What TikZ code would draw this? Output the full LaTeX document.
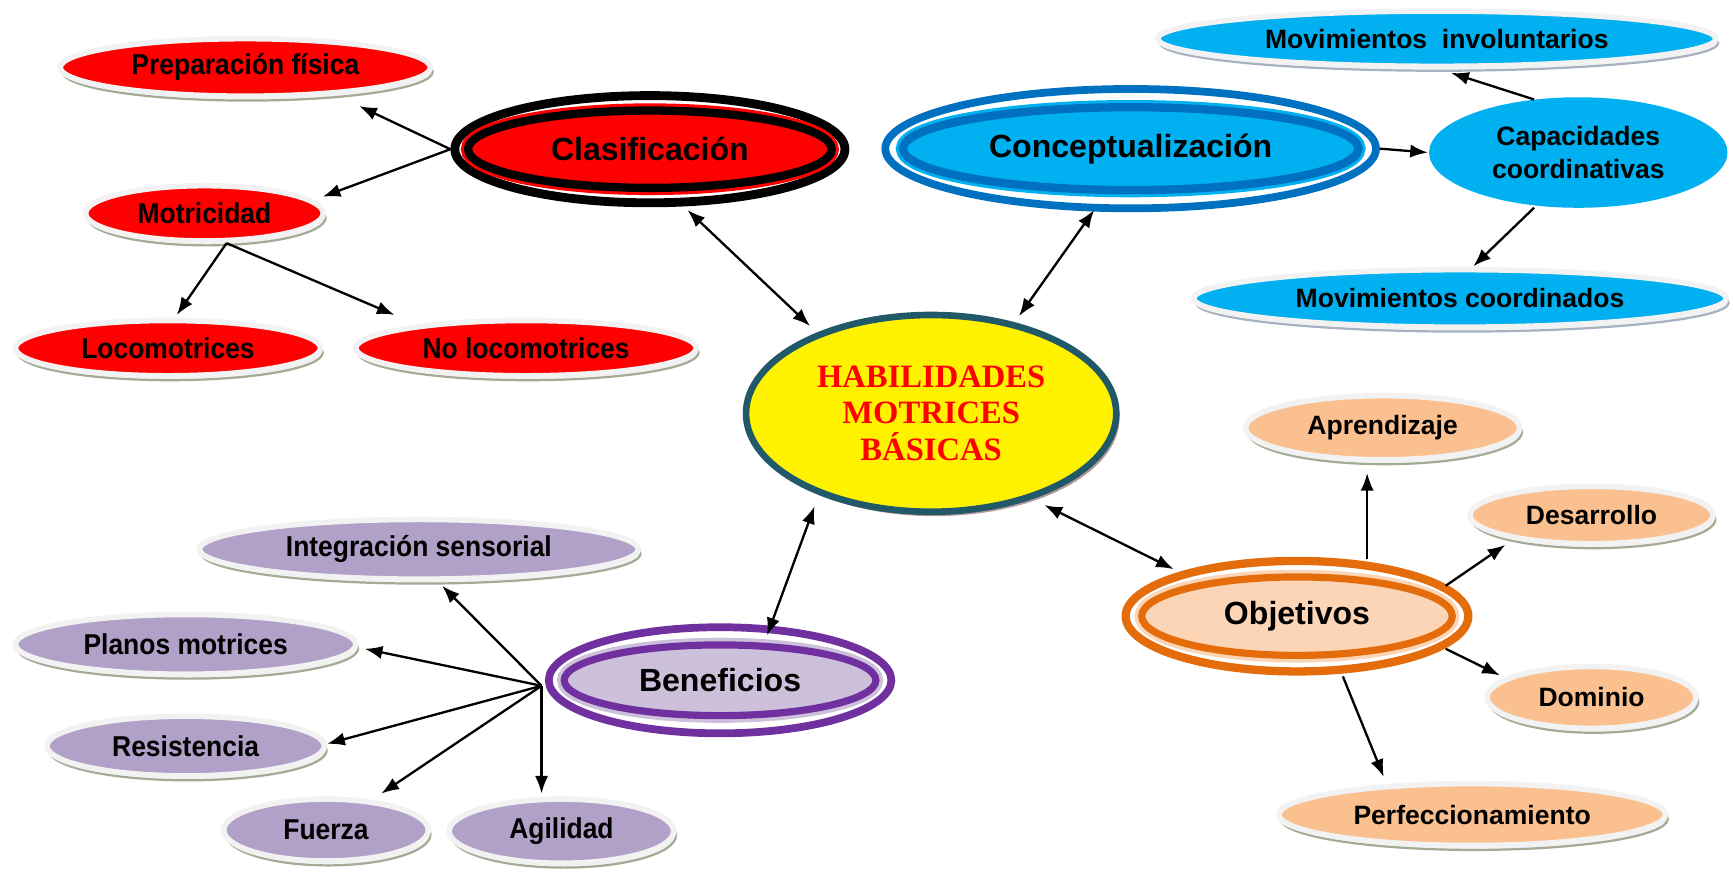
\documentclass[tikz,border=0pt]{standalone}
\usepackage{fontspec}
\setmainfont{Liberation Sans}
\newfontfamily\narrowfont[FakeStretch=0.92]{Liberation Sans}
\newfontfamily\timesfont{Liberation Serif}
\usetikzlibrary{shapes.geometric,shadows,arrows.meta,calc}

\definecolor{clasred}{HTML}{FF0000}
\definecolor{concblue}{HTML}{0070C0}
\definecolor{skyblue}{HTML}{00B0F0}
\definecolor{benepurple}{HTML}{7030A0}
\definecolor{benelight}{HTML}{CCC0DA}
\definecolor{leafpurple}{HTML}{B1A0C7}
\definecolor{objeorange}{HTML}{E46C0A}
\definecolor{objelight}{HTML}{FBD5B5}
\definecolor{leaforange}{HTML}{FAC090}
\definecolor{rimgray}{HTML}{F2F2F2}
\definecolor{shadegreen}{HTML}{A2AB93}
\definecolor{shadeblue}{HTML}{A7B1C2}
\definecolor{habiteal}{HTML}{215968}
\definecolor{habishade}{HTML}{B4979B}

\newcommand\narrowleaf{\narrowfont\bfseries\fontsize{26}{28}\selectfont}
\newcommand\wideleaf{\bfseries\fontsize{24}{29}\selectfont}

\tikzset{
  leaf/.style={ellipse, draw=rimgray, line width=5pt, inner sep=0pt,
    drop shadow={shadow xshift=2pt, shadow yshift=-4pt, opacity=1, fill=rimgray, draw=#1, line width=2pt}},
  leaf/.default=shadegreen,
  redleaf/.style={leaf, fill=clasred, font=\narrowleaf},
  purpleleaf/.style={leaf, fill=leafpurple, font=\narrowleaf},
  orangeleaf/.style={leaf, fill=leaforange, font=\wideleaf},
  blueleaf/.style={leaf=shadeblue, fill=skyblue, font=\wideleaf},
  capbox/.style={ellipse, fill=skyblue, inner sep=0pt, align=center, font=\wideleaf},
  ring/.style={ellipse, inner sep=0pt, fill=white, draw=#1},
  core/.style 2 args={ellipse, inner sep=0pt, draw=#1, fill=#2,
    preaction={draw=#2, line width=13pt}, font=\bfseries\fontsize{29}{32}\selectfont},
  centre/.style={ellipse, inner sep=0pt, draw=habiteal, line width=6pt, fill=yellow,
    align=center, text=red, font=\timesfont\bfseries\fontsize{29.5}{33}\selectfont,
    drop shadow={shadow xshift=3pt, shadow yshift=-4pt, opacity=1, fill=habishade}}
}

\begin{document}
\begin{tikzpicture}[x=1pt, y=-1pt, >={Latex[length=16pt,width=12pt]}, line width=2.1pt]
\useasboundingbox (0,0) rectangle (1568,790);

% centre
\node[centre, minimum width=335pt, minimum height=178pt] (habi) at (842.5,374) {HABILIDADES\\MOTRICES\\BÁSICAS};

% Clasificacion
\node[ring=black, line width=8pt, minimum width=353pt, minimum height=97pt] (clas) at (588,135) {};
\node[core={black}{clasred}, line width=7.5pt, minimum width=329pt, minimum height=70pt] (clasin) at (clas) {Clasificación};
\node[redleaf, minimum width=335pt, minimum height=52pt] (prep) at (222,61) {Preparación física};
\node[redleaf, minimum width=215pt, minimum height=50pt] (motr) at (185,193) {Motricidad};
\node[redleaf, minimum width=276pt, minimum height=50pt] (loco) at (152,315) {Locomotrices};
\node[redleaf, minimum width=308pt, minimum height=50pt] (nolo) at (476,315) {No locomotrices};

% Conceptualizacion
\node[ring=concblue, line width=7pt, minimum width=444pt, minimum height=108pt] (conc) at (1023,134.5) {};
\node[core={concblue}{skyblue}, line width=7.5pt, minimum width=412pt, minimum height=75pt] (concin) at (conc) {Conceptualización};
\node[capbox, minimum width=270pt, minimum height=100pt] (capa) at (1428,138) {Capacidades\\coordinativas};
\node[blueleaf, minimum width=505pt, minimum height=50pt] (movi) at (1300,35) {Movimientos\ \ involuntarios};
\node[blueleaf, minimum width=482pt, minimum height=52pt] (movc) at (1321,270) {Movimientos coordinados};

% Objetivos
\node[ring=objeorange, line width=7.5pt, minimum width=310pt, minimum height=100pt] (obje) at (1173.5,557.5) {};
\node[core={objeorange}{objelight}, line width=6.5pt, minimum width=281pt, minimum height=71pt] (objein) at (obje) {Objetivos};
\node[orangeleaf, minimum width=248pt, minimum height=58pt] (apre) at (1251,387) {Aprendizaje};
\node[orangeleaf, minimum width=220pt, minimum height=52pt] (desa) at (1440,466) {Desarrollo};
\node[orangeleaf, minimum width=189pt, minimum height=56pt] (domi) at (1440,631) {Dominio};
\node[orangeleaf, minimum width=350pt, minimum height=56pt] (perf) at (1332,737) {Perfeccionamiento};

% Beneficios
\node[ring=benepurple, line width=7pt, minimum width=310pt, minimum height=96pt] (bene) at (651.5,615.5) {};
\node[core={benepurple}{benelight}, line width=6.5pt, minimum width=282pt, minimum height=64pt] (benein) at (bene) {Beneficios};
\node[purpleleaf, minimum width=397pt, minimum height=54pt] (inte) at (379,497) {Integración sensorial};
\node[purpleleaf, minimum width=308pt, minimum height=54pt] (plan) at (168,583) {Planos motrices};
\node[purpleleaf, minimum width=251pt, minimum height=54pt] (resi) at (168,675) {Resistencia};
\node[purpleleaf, minimum width=185pt, minimum height=56pt] (fuer) at (295,751) {Fuerza};
\node[purpleleaf, minimum width=203pt, minimum height=58pt] (agil) at (508,752) {Agilidad};
\coordinate (hub) at ($(bene.west)+(-3,5)$);

% links with the centre
\draw[<->] ($(habi)+(-109.5,-79)$) -- ($(clas)+(34,55)$);
\draw[<->] ($(habi)+(79.5,-88)$) -- ($(conc)+(-33,55.5)$);
\draw[<->] ($(habi)+(102.5,83)$) -- ($(obje)+(-111.5,-42.5)$);
\draw[<->] ($(habi)+(-105.5,84)$) -- ($(bene)+(42.5,-40.5)$);

% clasificacion branch
\coordinate (motrfoot) at ($(motr)+(20,27)$);
\draw[->] (clas.west) -- ($(prep)+(103,35)$);
\draw[->] (clas.west) -- ($(motr)+(107,-15)$);
\draw[->] (motrfoot) -- ($(loco)+(8,-30)$);
\draw[->] (motrfoot) -- ($(nolo)+(-119,-30)$);

% conceptualizacion branch
\draw[->] (conc.east) -- (capa.west);
\draw[->] ($(capa)+(-40,-48)$) -- ($(movi)+(13,31)$);
\draw[->] ($(capa)+(-40,50)$) -- ($(movc)+(12,-29)$);

% objetivos branch
\draw[->] ($(obje)+(63.5,-51.5)$) -- ($(apre)+(-14,41)$);
\draw[->] ($(obje)+(134.5,-27.5)$) -- ($(desa)+(-78,27)$);
\draw[->] ($(obje)+(134.5,29.5)$) -- ($(domi)+(-83,-20)$);
\draw[->] ($(obje)+(41.5,54.5)$) -- ($(perf)+(-80,-34)$);

% beneficios branch
\draw[->] (hub) -- ($(inte)+(21,33)$);
\draw[->] (hub) -- ($(plan)+(162,4)$);
\draw[->] (hub) -- ($(resi)+(128,-2)$);
\draw[->] (hub) -- ($(fuer)+(50,-33)$);
\draw[->] (hub) -- ($(agil)+(-18,-34)$);

\end{tikzpicture}
\end{document}
